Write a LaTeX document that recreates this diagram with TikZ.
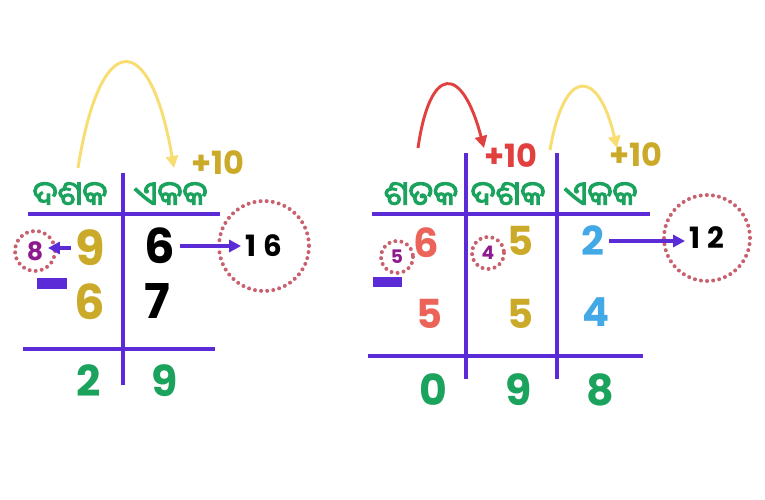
\documentclass[tikz,border=0pt]{standalone}
\usepackage{fontspec}
\setmainfont{Poppins}
\newfontfamily\odia[Script=Oriya, FakeBold=3]{Noto Sans Oriya UI}
\usetikzlibrary{arrows.meta}

\definecolor{headgreen}{HTML}{1BA35E}
\definecolor{barviolet}{HTML}{5B2BD8}
\definecolor{digitgold}{HTML}{CBAA2A}
\definecolor{arcyellow}{HTML}{F7DD72}
\definecolor{arcred}{HTML}{E0403E}
\definecolor{digitsalmon}{HTML}{EC6459}
\definecolor{digitblue}{HTML}{42A8E6}
\definecolor{ringpink}{HTML}{C8606E}
\definecolor{borrowpurple}{HTML}{8E1B8E}

\tikzset{
  heading/.style={text=headgreen, font=\odia\fontsize{25}{25}\selectfont},
  bigdigit/.style={font=\bfseries\fontsize{36}{36}\selectfont},
  digit/.style={font=\bfseries\fontsize{30}{30}\selectfont},
  result/.style={text=headgreen, font=\bfseries\fontsize{32}{32}\selectfont},
  plusten/.style={font=\bfseries\fontsize{24}{24}\selectfont},
  carried/.style={font=\bfseries\fontsize{22}{22}\selectfont},
  borrowed/.style={text=borrowpurple, font=\bfseries\fontsize{#1}{#1}\selectfont},
  bar/.style={barviolet, line width=3pt},
  ring/.style={ringpink, line width=3pt, line cap=round, dash pattern=on 0pt off 4.6pt},
  pointer/.style={barviolet, line width=2.4pt, -{Triangle[length=9pt,width=9pt]}},
  hop/.style={line width=2.2pt, -{Triangle[length=9pt,width=9pt]}}
}

\begin{document}
\begin{tikzpicture}[x=0.75pt, y=-0.75pt]
    \useasboundingbox (0,0) rectangle (765,500);

    % left: two columns
    \draw[bar] (123,173) -- (123,385);
    \draw[bar] (28,214) -- (220,214);
    \draw[bar] (23,349) -- (215,349);

    \node[heading] at (70,195) (tensL) {ଦଶକ};
    \node[heading] at (171,195) (unitsL) {ଏକକ};
    \node[plusten, text=digitgold] at (218,163) (plusL) {+10};

    \coordinate (hopLa) at (78,168);
    \coordinate (hopLb) at (174,168);
    \draw[hop, arcyellow] (hopLa) .. controls (100,28) and (150,28) .. (hopLb);

    \node[bigdigit, text=digitgold] at (90,248) (nineL) {9};
    \node[bigdigit] at (160,246) (sixL) {6};
    \node[bigdigit, text=digitgold] at (90,302) (sixgL) {6};
    \node[bigdigit] at (157,301) (sevenL) {7};
    \node[result] at (89,381) (twoL) {2};
    \node[result] at (165,381) (nineresL) {9};

    \node[borrowed=19] at (35,251) (eightL) {8};
    \draw[ring] (eightL.center) circle (20);
    \draw[pointer] (nineL.west) -- (nineL.west -| eightL.east);

    \node[carried] at (264,246) (sixteen) {1\hspace{5pt}6};
    \draw[ring] (sixteen.center) circle (45);
    \draw[pointer] (sixL.east) -- (sixL.east -| sixteen.west);

    \fill[barviolet] (37,278) rectangle (67,289);

    % right: three columns
    \draw[bar] (466,153) -- (466,379);
    \draw[bar] (557,153) -- (557,379);
    \draw[bar] (372,214) -- (650,214);
    \draw[bar] (368,356) -- (643,356);

    \node[heading] at (421,195) (hundredsR) {ଶତକ};
    \node[heading] at (508,195) (tensR) {ଦଶକ};
    \node[heading] at (601,195) (unitsR) {ଏକକ};
    \node[plusten, text=arcred] at (511,156) (plusRa) {+10};
    \node[plusten, text=digitgold] at (636,155) (plusRb) {+10};

    \coordinate (hopRa) at (418,148);
    \coordinate (hopRb) at (484,148);
    \coordinate (hopRc) at (550,150);
    \coordinate (hopRd) at (617,148);
    \draw[hop, arcred] (hopRa) .. controls (430,64) and (462,64) .. (hopRb);
    \draw[hop, arcyellow] (hopRc) .. controls (564,67) and (598,67) .. (hopRd);

    \node[digit, text=digitsalmon] at (426,243) (sixR) {6};
    \node[digit, text=digitgold] at (520,241) (fiveR) {5};
    \node[digit, text=digitblue] at (593,241) (twoR) {2};
    \node[digit, text=digitsalmon] at (429,314) (fivesR) {5};
    \node[digit, text=digitgold] at (520,314) (fivegR) {5};
    \node[digit, text=digitblue] at (596,312) (fourR) {4};
    \node[result] at (433,390) (zeroR) {0};
    \node[result] at (519,390) (nineR) {9};
    \node[result] at (600,390) (eightR) {8};

    \node[borrowed=14] at (397,257) (fivebR) {5};
    \draw[ring] (fivebR.center) circle (16);
    \node[borrowed=14] at (488,253) (fourbR) {4};
    \draw[ring] (fourbR.center) circle (16);

    \node[carried] at (707,238) (twelve) {1\hspace{5pt}2};
    \draw[ring] (twelve.center) circle (43);
    \draw[pointer] (twoR.east) -- (twoR.east -| twelve.west);

    \fill[barviolet] (373,277) rectangle (402,287);
\end{tikzpicture}
\end{document}
